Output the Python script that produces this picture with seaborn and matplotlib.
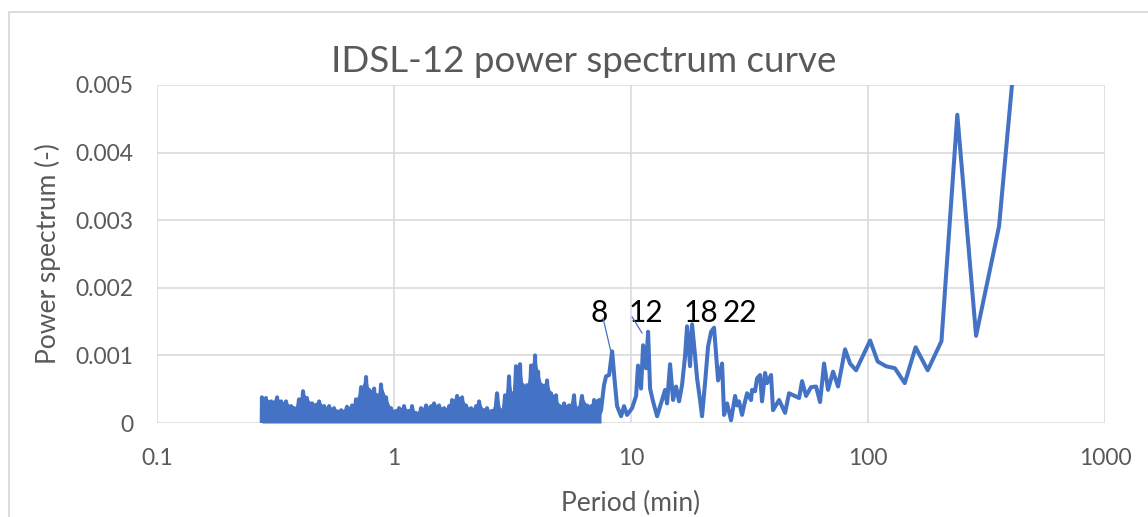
import matplotlib
matplotlib.use("Agg")
import matplotlib.pyplot as plt
import pandas as pd
import seaborn as sns
from matplotlib.lines import Line2D
from matplotlib.ticker import NullLocator

# Power spectrum (power in units of 1e-3)
# dense short-period band, 0.28 - 7.5 min (floor / peak pairs)
band_period = [
    0.2765, 0.277, 0.282, 0.288, 0.295, 0.303, 0.312, 0.321, 0.327, 0.334,
    0.342, 0.350, 0.359, 0.368, 0.373, 0.379, 0.388, 0.397, 0.405, 0.413,
    0.421, 0.429, 0.440, 0.451, 0.467, 0.483, 0.495, 0.507, 0.519, 0.532,
    0.545, 0.558, 0.578, 0.598, 0.615, 0.633, 0.649, 0.665, 0.678, 0.691,
    0.708, 0.726, 0.744, 0.762, 0.773, 0.785, 0.804, 0.824, 0.836, 0.848,
    0.864, 0.881, 0.903, 0.925, 0.948, 0.971, 0.995, 1.020, 1.035, 1.050,
    1.076, 1.102, 1.129, 1.157, 1.174, 1.191, 1.214, 1.238, 1.269, 1.300,
    1.332, 1.365, 1.399, 1.433, 1.454, 1.475, 1.511, 1.548, 1.587, 1.626,
    1.666, 1.707, 1.732, 1.757, 1.800, 1.845, 1.890, 1.936, 1.974, 2.013,
    2.062, 2.113, 2.165, 2.218, 2.251, 2.284, 2.340, 2.398, 2.433, 2.468,
    2.529, 2.591, 2.655, 2.720, 2.773, 2.828, 2.883, 2.940, 2.998, 3.056,
    3.101, 3.147, 3.208, 3.271, 3.336, 3.401, 3.451, 3.502, 3.571, 3.641,
    3.712, 3.786, 3.860, 3.935, 3.993, 4.052, 4.130, 4.211, 4.315, 4.422,
    4.508, 4.597, 4.710, 4.825, 4.895, 4.968, 5.090, 5.216, 5.345, 5.475,
    5.610, 5.748, 5.832, 5.917, 6.000, 6.210, 6.340, 6.520, 6.650, 6.780,
    6.880, 6.980, 7.080, 7.190, 7.260, 7.330, 7.400, 7.470,
]
band_power = [
    0.02, 0.38, 0.03, 0.37, 0.02, 0.32, 0.04, 0.38, 0.02, 0.32,
    0.03, 0.32, 0.02, 0.25, 0.04, 0.22, 0.02, 0.35, 0.03, 0.47,
    0.02, 0.37, 0.03, 0.29, 0.02, 0.32, 0.03, 0.25, 0.02, 0.25,
    0.04, 0.22, 0.02, 0.19, 0.03, 0.24, 0.02, 0.26, 0.03, 0.35,
    0.04, 0.53, 0.03, 0.68, 0.05, 0.49, 0.03, 0.51, 0.04, 0.41,
    0.02, 0.57, 0.03, 0.38, 0.02, 0.22, 0.03, 0.18, 0.02, 0.22,
    0.03, 0.25, 0.02, 0.18, 0.03, 0.25, 0.02, 0.15, 0.03, 0.22,
    0.02, 0.26, 0.04, 0.25, 0.02, 0.29, 0.03, 0.26, 0.04, 0.22,
    0.02, 0.25, 0.03, 0.34, 0.05, 0.40, 0.03, 0.38, 0.04, 0.26,
    0.02, 0.22, 0.05, 0.25, 0.03, 0.32, 0.04, 0.19, 0.02, 0.22,
    0.05, 0.18, 0.03, 0.44, 0.08, 0.19, 0.04, 0.41, 0.10, 0.69,
    0.06, 0.44, 0.12, 0.84, 0.05, 0.87, 0.10, 0.56, 0.06, 0.56,
    0.08, 0.85, 0.04, 1.00, 0.09, 0.76, 0.05, 0.56, 0.10, 0.63,
    0.06, 0.44, 0.08, 0.41, 0.04, 0.26, 0.10, 0.29, 0.05, 0.26,
    0.09, 0.41, 0.04, 0.22, 0.06, 0.40, 0.04, 0.26, 0.05, 0.25,
    0.10, 0.34, 0.12, 0.32, 0.08, 0.34, 0.15, 0.19,
]

# 7.7 - 34 min, individual peaks visible
mid_period = [
    7.69, 7.84, 8.08,
    8.32, 8.56, 8.73, 9.08, 9.34, 9.62, 10.10, 10.50, 10.70, 11.02,
    11.24, 11.57, 11.80, 12.03, 12.38, 12.88, 13.38, 13.92, 14.19, 14.61,
    15.04, 15.48, 15.94, 16.41, 16.90, 17.23, 17.74, 18.09, 18.62, 18.99,
    19.55, 19.93, 20.52, 21.13, 21.76, 22.40, 22.84, 23.29, 24.21, 24.69,
    25.42, 26.42, 27.47, 28.01, 28.55, 29.40, 29.98, 30.87, 32.08, 32.40,
    33.36, 34.01,
]
mid_power = [
    0.56, 0.69, 0.71,
    1.06, 0.56, 0.25, 0.10, 0.25, 0.12, 0.22, 0.40, 0.85, 0.51,
    1.15, 0.81, 1.35, 0.51, 0.32, 0.10, 0.29, 0.49, 0.29, 0.87,
    0.34, 0.54, 0.32, 0.56, 0.99, 1.43, 0.84, 1.46, 1.00, 0.66,
    0.34, 0.10, 0.59, 1.13, 1.35, 1.41, 1.03, 0.63, 0.88, 0.12,
    0.29, 0.04, 0.40, 0.26, 0.32, 0.12, 0.26, 0.44, 0.34, 0.49,
    0.47, 0.66,
]

# long periods, 35 - 476 min
tail_period = [
    35.02, 35.70, 36.77, 37.48, 38.96, 39.73, 42.13, 44.66, 46.42, 51.17,
    52.66, 54.74, 57.47, 60.34, 62.73, 65.21, 67.80, 71.17, 74.71, 79.98,
    83.95, 89.01, 102.0, 109.8, 119.0, 129.8, 142.8, 158.7, 178.5, 204.0,
    238.0, 285.6, 357.0, 476.0,
]
tail_power = [
    0.71, 0.32, 0.74, 0.59, 0.71, 0.19, 0.34, 0.15, 0.44, 0.37,
    0.62, 0.40, 0.53, 0.54, 0.31, 0.88, 0.49, 0.76, 0.54, 1.09,
    0.88, 0.78, 1.22, 0.91, 0.84, 0.81, 0.59, 1.12, 0.78, 1.21,
    4.56, 1.29, 2.91, 7.70,
]

x_ticks = [0.1, 1, 10, 100, 1000]
x_tick_labels = ["0.1", "1", "10", "100", "1000"]
y_ticks = [0, 0.001, 0.002, 0.003, 0.004, 0.005]
y_tick_labels = ["0", "0.001", "0.002", "0.003", "0.004", "0.005"]
peak_labels = ["8", "12", "18", "22"]

BLUE = "#4472C4"
GREY = "#595959"

sns.set_style("white")
plt.rcParams["font.family"] = ["Lato", "DejaVu Sans"]

df = pd.DataFrame({
    "period": band_period + mid_period + tail_period,
    "power": [v * 1e-3 for v in band_power + mid_power + tail_power],
})

fig = plt.figure(figsize=(11.48, 5.17), dpi=100)
ax = fig.add_axes([0.1368, 0.1818, 0.8258, 0.6538])

sns.lineplot(data=df, x="period", y="power", sort=False, estimator=None,
             color=BLUE, linewidth=2.9, ax=ax)

# the short-period part is so dense that the line covers its whole envelope
ax.fill_between(band_period[1::2], [v * 1e-3 for v in band_power[1::2]], 0,
                color=BLUE, linewidth=0)

ax.set_xscale("log")
ax.set_xlim(0.1, 1000)
ax.set_ylim(0, 0.005)
ax.set_xticks(x_ticks)
ax.set_xticklabels(x_tick_labels)
ax.xaxis.set_minor_locator(NullLocator())
ax.set_yticks(y_ticks)
ax.set_yticklabels(y_tick_labels)
ax.grid(True, color="#D9D9D9", linewidth=1.1)
for s in ax.spines.values():
    s.set_visible(False)
ax.tick_params(axis="both", length=0, labelsize=16.5, labelcolor=GREY)
ax.tick_params(axis="x", pad=18)
ax.tick_params(axis="y", pad=17)

ax.set_xlabel("Period (min)", fontsize=19, color=GREY, va="baseline")
ax.xaxis.set_label_coords(0.5, -0.26)
ax.set_ylabel("Power spectrum (-)", fontsize=19, color=GREY, va="center")
ax.yaxis.set_label_coords(-0.115, 0.5)

fig.text(0.5087, 0.8607, "IDSL-12 power spectrum curve", ha="center",
         va="baseline", fontsize=26.5, color=GREY)

# peak labels, 8 and 12 with thin leader lines
base = 0.001494
label_x = [7.33, 11.57, 19.74, 28.84]
for lab, lx in zip(peak_labels, label_x):
    ax.text(lx, base, lab, ha="center", va="baseline", fontsize=21.5,
            color="black")
ax.annotate("", xy=(8.23, 0.00105), xytext=(7.62, 0.00155),
            arrowprops=dict(arrowstyle="-", color=BLUE, lw=0.9,
                            shrinkA=0, shrinkB=0))
ax.annotate("", xy=(11.13, 0.00133), xytext=(10.10, 0.00157),
            arrowprops=dict(arrowstyle="-", color=BLUE, lw=0.9,
                            shrinkA=0, shrinkB=0))

# chart area border (only left and top edges are inside the crop)
fig.add_artist(Line2D([9 / 1148, 9 / 1148, 1.0], [0, 1 - 12 / 517, 1 - 12 / 517],
                      color="#D9D9D9", lw=1.3, transform=fig.transFigure))

fig.savefig("out.png", dpi=100)
